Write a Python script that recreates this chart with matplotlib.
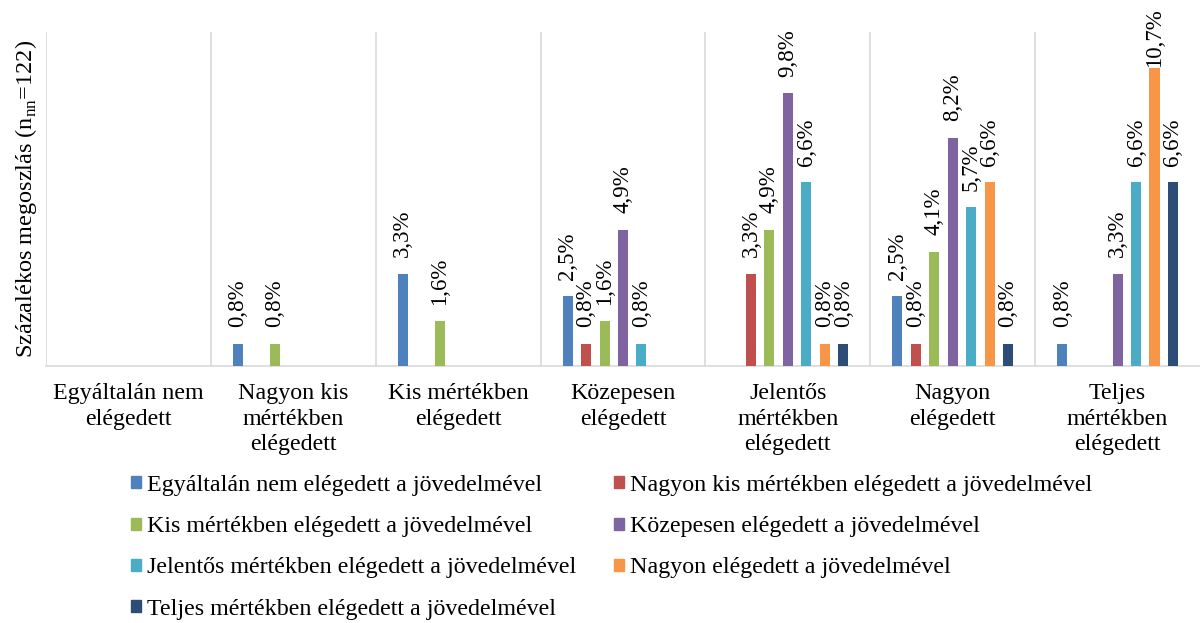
import numpy as np
import matplotlib
matplotlib.use("Agg")
import matplotlib.pyplot as plt
from matplotlib.patches import Patch

plt.rcParams["font.family"] = ["Liberation Serif", "DejaVu Serif"]
plt.rcParams["mathtext.fontset"] = "custom"
plt.rcParams["mathtext.rm"] = "Liberation Serif"

# categories on the x axis
categories = ["Egyáltalán nem\nelégedett", "Nagyon kis\nmértékben\nelégedett",
              "Kis mértékben\nelégedett", "Közepesen\nelégedett",
              "Jelentős\nmértékben\nelégedett", "Nagyon\nelégedett",
              "Teljes\nmértékben\nelégedett"]

series_names = ["Egyáltalán nem elégedett a jövedelmével",
                "Nagyon kis mértékben elégedett a jövedelmével",
                "Kis mértékben elégedett a jövedelmével",
                "Közepesen elégedett a jövedelmével",
                "Jelentős mértékben elégedett a jövedelmével",
                "Nagyon elégedett a jövedelmével",
                "Teljes mértékben elégedett a jövedelmével"]

colors = ["#4F81BD", "#C0504D", "#9BBB59", "#8064A2", "#4BACC6", "#F79646", "#2C4D75"]

# values in %, None = no bar (per series, across the 7 categories)
s1 = [None, 0.8, 3.3, 2.5, None, 2.5, 0.8]
s2 = [None, None, None, 0.8, 3.3, 0.8, None]
s3 = [None, 0.8, 1.6, 1.6, 4.9, 4.1, None]
s4 = [None, None, None, 4.9, 9.8, 8.2, 3.3]
s5 = [None, None, None, 0.8, 6.6, 5.7, 6.6]
s6 = [None, None, None, None, 0.8, 6.6, 10.7]
s7 = [None, None, None, None, 0.8, 0.8, 6.6]
all_series = [s1, s2, s3, s4, s5, s6, s7]

fig = plt.figure(figsize=(12, 6.23), dpi=100)
ax = fig.add_axes([46/1200, 1 - 366/623, 1 - 46/1200, (366 - 32)/623])

x = np.arange(len(categories))
step = 0.112
width = 0.061

for k, vals in enumerate(all_series):
    xs = [x[j] + (k - 3)*step for j in range(len(vals)) if vals[j] is not None]
    ys = [v for v in vals if v is not None]
    bars = ax.bar(xs, ys, width=width, color=colors[k], zorder=3)
    for b, v in zip(bars, ys):
        # labels that would leave the chart get pushed down (like excel does)
        off = 12 if v < 10 else 0.5
        ax.annotate(f"{v:.1f}%".replace(".", ","),
                    (b.get_x() + b.get_width()/2, v),
                    xytext=(0, off), textcoords="offset points",
                    rotation=90, ha="center", va="bottom", fontsize=16.5)

for bnd in np.arange(-0.5, len(categories) - 0.5, 1):
    ax.axvline(bnd, color="#d9d9d9", lw=1.2, zorder=1)

ax.set_xlim(-0.5, len(categories) - 0.5)
ax.set_ylim(0, 12)
ax.set_yticks([])
ax.set_xticks(x)
ax.set_xticklabels(categories, fontsize=17.3, linespacing=1.27)
ax.tick_params(axis="x", length=0, pad=12.5)
for sp in ["top", "right", "left"]:
    ax.spines[sp].set_visible(False)
ax.spines["bottom"].set_color("#d9d9d9")
ax.spines["bottom"].set_linewidth(1.2)

ax.set_ylabel(r"Százalékos megoszlás (n$_{\mathrm{nn}}$=122)", fontsize=17.5, labelpad=5)

# legend row-wise order
order = [0, 2, 4, 6, 1, 3, 5]
handles = [Patch(color=colors[i], label=series_names[i]) for i in order]
fig.legend(handles=handles, ncol=2, loc="upper left",
           bbox_to_anchor=(131/1200, 1 - 475/623), frameon=False,
           fontsize=17.3, handlelength=0.4, handleheight=0.4,
           handletextpad=0.25, columnspacing=1.6, labelspacing=0.84,
           borderpad=0, borderaxespad=0)

fig.savefig("out.png", dpi=100)
